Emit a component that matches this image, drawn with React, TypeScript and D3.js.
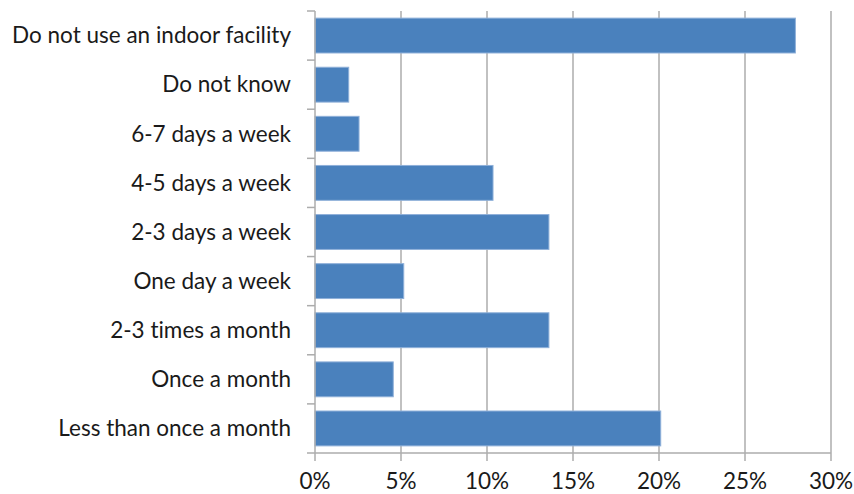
import React from "react";
import * as d3 from "d3";

const categories = [
  "Do not use an indoor facility",
  "Do not know",
  "6-7 days a week",
  "4-5 days a week",
  "2-3 days a week",
  "One day a week",
  "2-3 times a month",
  "Once a month",
  "Less than once a month",
];
const values = [27.93, 1.96, 2.56, 10.35, 13.6, 5.16, 13.6, 4.55, 20.1];
const xTicks = [0, 5, 10, 15, 20, 25, 30];

const W = 854;
const H = 494;
const left = 315;
const right = 831;
const top = 11;
const bottom = 453;
const FONT = "Lato, 'Open Sans', sans-serif";
const FS = 22.5;

export default function App() {
  const x = d3.scaleLinear().domain([0, 30]).range([left, right]);
  const y = d3.scaleBand<string>().domain(categories).range([top, bottom]).padding(0);
  const bw = y.bandwidth();
  const barH = bw * 0.71;
  const grid = "#acacac";
  const textStyle = { fontVariantLigatures: "none" as const, fontFeatureSettings: "'liga' 0" };
  return (
    <svg width={W} height={H} style={{ position: "absolute", left: 0, top: 0, background: "#fff" }}>
      {xTicks.map((t) =>
        t === 0 ? null : (
          <line key={"g" + t} x1={x(t)} x2={x(t)} y1={top} y2={bottom} stroke={grid} strokeWidth={1.5} />
        )
      )}
      {categories.map((c, i) => {
        const yc = (y(c) as number) + bw / 2;
        return (
          <rect
            key={c}
            x={x(0)}
            y={yc - barH / 2}
            width={x(values[i]) - x(0)}
            height={barH}
            fill="#4a81bd"
            stroke="#8fb0d9"
            strokeWidth={1}
          />
        );
      })}
      <line x1={left} x2={left} y1={top} y2={bottom} stroke={grid} strokeWidth={1.5} />
      <line x1={left - 8} x2={right} y1={bottom} y2={bottom} stroke={grid} strokeWidth={1.5} />
      {categories.map((c) => (
        <line key={"yt" + c} x1={left - 8} x2={left} y1={y(c) as number} y2={y(c) as number} stroke={grid} strokeWidth={1.5} />
      ))}
      {xTicks.map((t) => (
        <line key={"xt" + t} x1={x(t)} x2={x(t)} y1={bottom} y2={bottom + 8} stroke={grid} strokeWidth={1.5} />
      ))}
      {categories.map((c) => (
        <text
          key={"l" + c}
          x={291}
          y={(y(c) as number) + bw / 2 + 7.8}
          textAnchor="end"
          fontFamily={FONT}
          fontSize={FS}
          fill="#1a1a1a"
          style={textStyle}
        >
          {c}
        </text>
      ))}
      {xTicks.map((t) => (
        <text
          key={"xl" + t}
          x={x(t)}
          y={489}
          textAnchor="middle"
          fontFamily={FONT}
          fontSize={FS}
          fill="#1a1a1a"
          style={textStyle}
        >
          {t + "%"}
        </text>
      ))}
    </svg>
  );
}
